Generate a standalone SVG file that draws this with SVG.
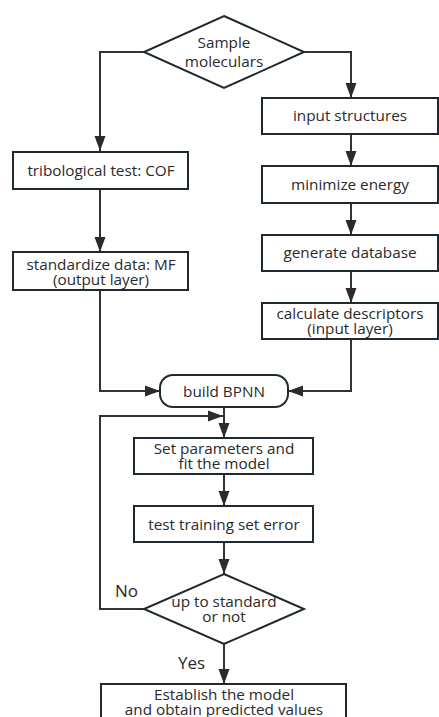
<svg xmlns="http://www.w3.org/2000/svg" width="439" height="717" viewBox="0 0 439 717">
<defs>
<marker id="arr" markerUnits="userSpaceOnUse" markerWidth="16" markerHeight="12" refX="15" refY="6" orient="auto">
<path d="M0,0.5 L15,6 L0,11.5 z" fill="#2b2b2b"/>
</marker>
<style>
.box{fill:#fff;stroke:#1e2a32;stroke-width:2}
.line{fill:none;stroke:#333;stroke-width:2;marker-end:url(#arr)}
text{font-family:"Open Sans","Noto Sans","Liberation Sans",sans-serif;font-size:15.3px;fill:#2a2a2a;text-anchor:middle}
.lbl{font-size:17px;text-anchor:start}
</style>
</defs>
<rect width="439" height="717" fill="#fff"/>
<g id="connectors">
<path class="line" d="M144,52 H100 V151"/>
<path class="line" d="M304,52 H351 V98"/>
<path class="line" d="M351,134 V166"/>
<path class="line" d="M351,203 V235"/>
<path class="line" d="M351,271 V303"/>
<path class="line" d="M351,339 V391 H288"/>
<path class="line" d="M100,189 V252"/>
<path class="line" d="M100,290 V391 H160"/>
<path class="line" d="M224,407 V438"/>
<path class="line" d="M144,609 H100 V416 H223"/>
<path class="line" d="M224,474 V506"/>
<path class="line" d="M224,542 V574"/>
<path class="line" d="M224,644 V684"/>
</g>
<g id="n_sample">
<path class="box" d="M224,16 L304,52 L224,88 L144,52 z"/>
<text x="224" y="48">Sample</text>
<text x="224" y="67">moleculars</text>
</g>
<g id="n_input">
<rect class="box" x="262" y="98" width="176" height="36"/>
<text x="350" y="121">input structures</text>
</g>
<g id="n_min">
<rect class="box" x="262" y="166" width="176" height="37"/>
<text x="350" y="190">minimize energy</text>
</g>
<g id="n_gen">
<rect class="box" x="262" y="235" width="176" height="36"/>
<text x="350" y="258">generate database</text>
</g>
<g id="n_calc">
<rect class="box" x="262" y="303" width="176" height="36"/>
<text x="350" y="319">calculate descriptors</text>
<text x="350" y="334">(input layer)</text>
</g>
<g id="n_trib">
<rect class="box" x="13" y="152" width="175" height="37"/>
<text x="101" y="176">tribological test: COF</text>
</g>
<g id="n_std">
<rect class="box" x="13" y="252" width="175" height="38"/>
<text x="101" y="270">standardize data: MF</text>
<text x="101" y="285">(output layer)</text>
</g>
<g id="n_bpnn">
<rect class="box" x="160" y="375" width="128" height="32" rx="13" ry="13"/>
<text x="224" y="397">build BPNN</text>
</g>
<g id="n_set">
<rect class="box" x="134" y="438" width="179" height="36"/>
<text x="224" y="454">Set parameters and</text>
<text x="224" y="469">fit the model</text>
</g>
<g id="n_test">
<rect class="box" x="134" y="506" width="179" height="36"/>
<text x="224" y="530">test training set error</text>
</g>
<g id="n_std2">
<path class="box" d="M224,574 L304,609 L224,644 L144,609 z"/>
<text x="224" y="607">up to standard</text>
<text x="224" y="622">or not</text>
</g>
<g id="n_est">
<rect class="box" x="101" y="684" width="245" height="50"/>
<text x="224" y="700">Establish the model</text>
<text x="224" y="715">and obtain predicted values</text>
</g>
<g id="labels">
<text class="lbl" x="115" y="597">No</text>
<text class="lbl" x="178" y="669">Yes</text>
</g>
</svg>
